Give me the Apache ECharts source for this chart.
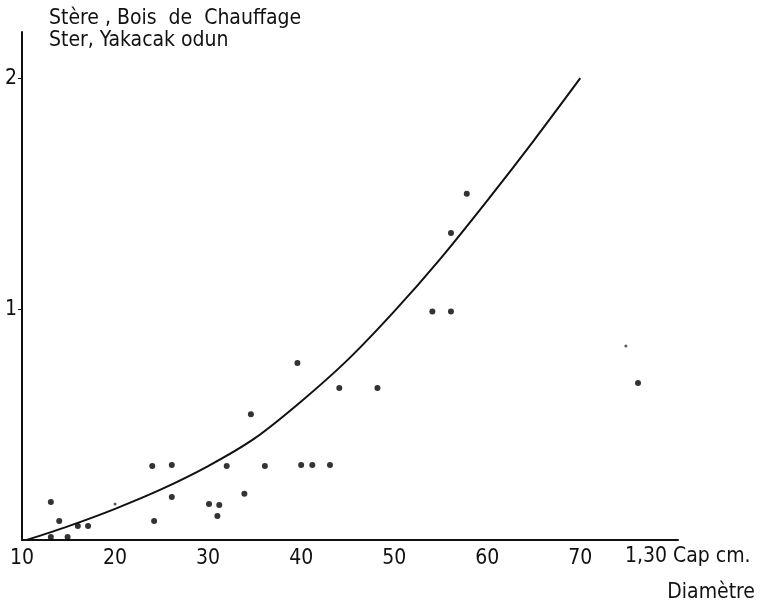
<!DOCTYPE html>
<html>
<head>
<meta charset="utf-8">
<script src="https://cdn.jsdelivr.net/npm/echarts@6/dist/echarts.min.js"></script>
<style>
html,body{margin:0;padding:0;background:#fff;}
#chart{width:768px;height:605px;}
</style>
</head>
<body>
<div id="chart"></div>
<script>
// Observed trees: diameter at 1.30 m (cm) and fuelwood volume (stère)
const pointDiameter = [13.1, 14.0, 13.1, 14.9, 16.0, 17.1, 24.0, 26.1, 26.1, 24.2, 32.0, 30.1, 31.2, 31.0, 33.9, 36.1, 40.0, 41.2, 43.1, 34.6, 39.6, 44.1, 48.2, 54.1, 56.1, 56.1, 57.8, 76.2];
const pointVolume   = [0.165, 0.082, 0.013, 0.013, 0.061, 0.061, 0.32, 0.325, 0.186, 0.082, 0.32, 0.156, 0.152, 0.104, 0.20, 0.32, 0.325, 0.325, 0.325, 0.545, 0.766, 0.658, 0.658, 0.99, 0.99, 1.33, 1.50, 0.68];
// faint marks
const faintDiameter = [20.0, 74.9];
const faintVolume   = [0.156, 0.84];
// Fitted curve
const curveDiameter = [10.5, 15, 20, 25, 30, 35, 40, 45, 50, 55, 60, 65, 70];
const curveVolume   = [0.00, 0.06, 0.135, 0.22, 0.32, 0.44, 0.60, 0.78, 0.99, 1.22, 1.47, 1.73, 2.00];
// Tick labels
const xTickValues = [10, 20, 30, 40, 50, 60, 70];
const yTickValues = [1, 2];
const titleLines = ['Stère , Bois  de  Chauffage', 'Ster, Yakacak odun'];
const xNameLine1 = '1,30 Cap cm.';
const xNameLine2 = 'Diamètre';

const FONT = '"DejaVu Sans Condensed", "DejaVu Sans", sans-serif';
const chart = echarts.init(document.getElementById('chart'));
const option = {
  backgroundColor: '#fff',
  animation: false,
  title: {
    text: titleLines.join('\n'),
    left: 44, top: 3,
    textStyle: {fontFamily: FONT, fontSize: 21, fontWeight: 'normal', color: '#111', lineHeight: 22}
  },
  grid: {left: 22, right: 90, top: 32, bottom: 65},
  xAxis: {
    type: 'value', min: 10, max: 80.5, interval: 10,
    axisLine: {lineStyle: {color: '#111', width: 2}},
    axisTick: {show: false},
    splitLine: {show: false},
    axisLabel: {customValues: xTickValues, margin: 8, fontFamily: FONT, fontSize: 21, color: '#111'}
  },
  yAxis: {
    type: 'value', min: 0, max: 2.2, interval: 1,
    axisLine: {show: true, lineStyle: {color: '#111', width: 2}},
    axisTick: {show: true, customValues: yTickValues, length: 4, lineStyle: {color: '#111', width: 1}},
    splitLine: {show: false},
    axisLabel: {customValues: yTickValues, margin: 5, fontFamily: FONT, fontSize: 21, color: '#111'}
  },
  graphic: [
    {type: 'text', left: 625, top: 546, style: {text: xNameLine1, font: '21px ' + FONT, fill: '#111'}},
    {type: 'text', right: 13, top: 582, style: {text: xNameLine2, font: '21px ' + FONT, fill: '#111', textAlign: 'right'}}
  ],
  series: [
    {
      type: 'line', smooth: 0.3, showSymbol: false,
      data: curveDiameter.map((d, i) => [d, curveVolume[i]]),
      lineStyle: {color: '#111', width: 2}
    },
    {
      type: 'scatter', symbol: 'circle', symbolSize: 6,
      data: pointDiameter.map((d, i) => [d, pointVolume[i]]),
      itemStyle: {color: '#000'}
    },
    {
      type: 'scatter', symbol: 'circle', symbolSize: 3,
      data: faintDiameter.map((d, i) => [d, faintVolume[i]]),
      itemStyle: {color: '#333'}
    }
  ]
};
chart.setOption(option);
</script>
</body>
</html>
